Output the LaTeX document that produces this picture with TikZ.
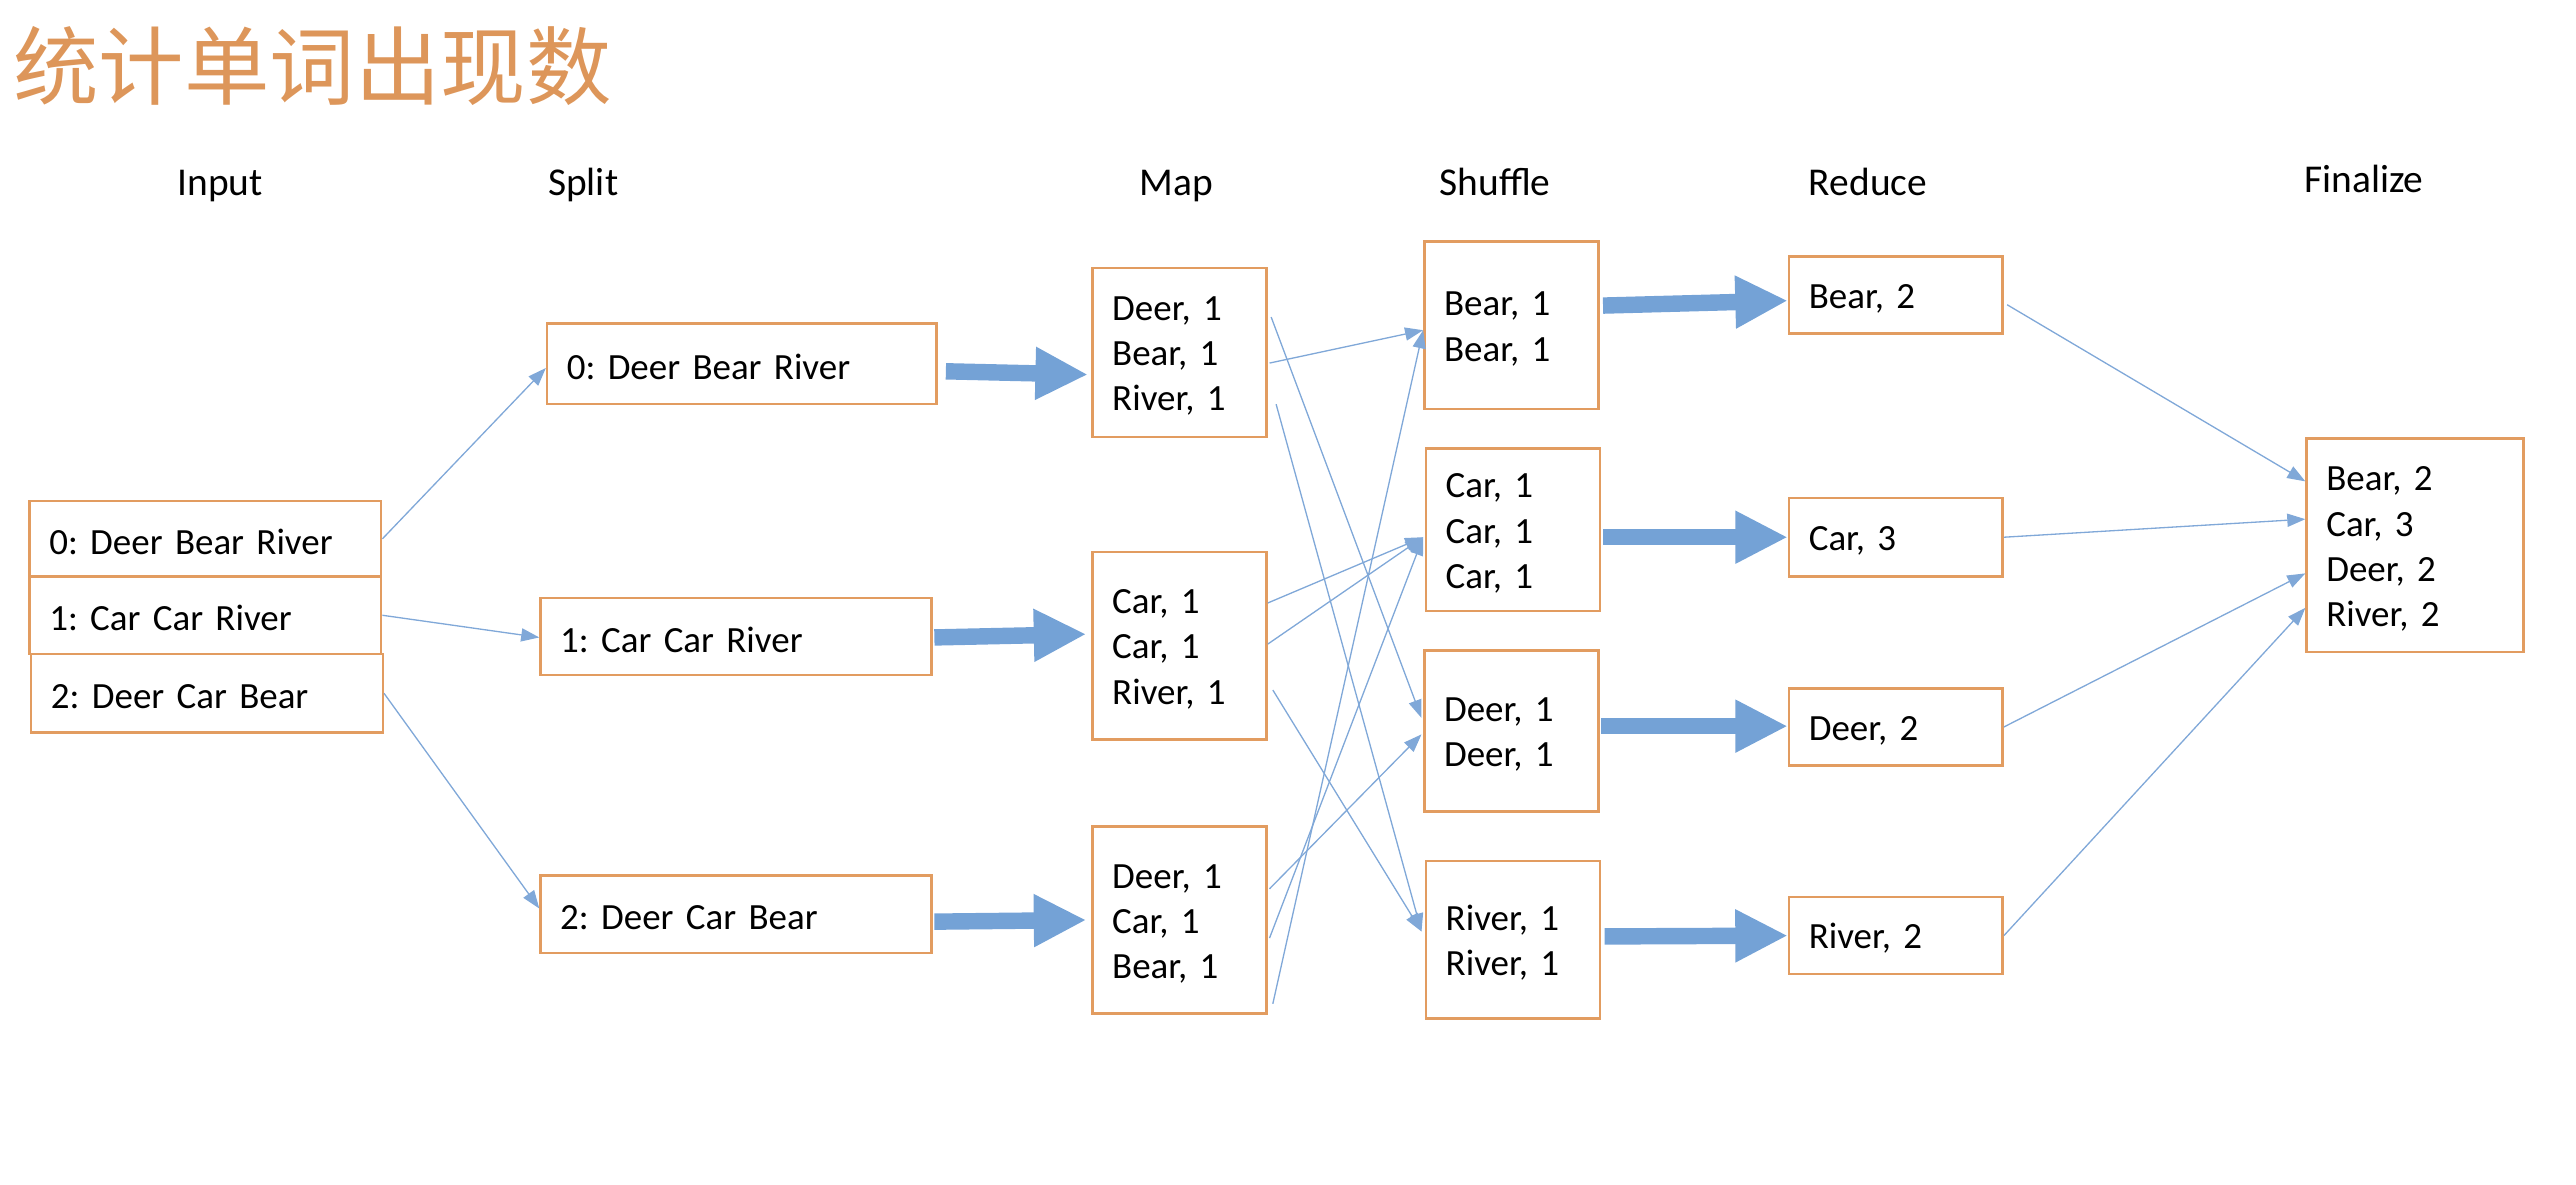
\documentclass[tikz,border=0pt]{standalone}
\usepackage{fontspec}
\setmainfont{Carlito}
\newfontfamily\cjk{Noto Sans CJK SC}
\usetikzlibrary{arrows.meta,calc}
\definecolor{boxc}{RGB}{226,156,96}
\definecolor{titlec}{RGB}{221,150,90}
\definecolor{thickc}{RGB}{116,162,214}
\definecolor{thinc}{RGB}{128,168,216}
\frenchspacing
\begin{document}
\begin{tikzpicture}[x=1pt,y=-1pt,
  box/.style={draw=boxc, line width=1.5pt, fill=white, inner xsep=12pt, inner ysep=0pt,
    align=left, font=\fontsize{22.5}{27.5}\selectfont, anchor=center,
    execute at begin node={\rule{0pt}{19pt}}},
  hdr/.style={font=\fontsize{24}{28}\selectfont, inner sep=0pt, anchor=base},
  conn/.style={draw=thinc, line width=0.8pt, -{Triangle[length=11pt,width=8pt]}},
  bigarrow/.style={draw=thickc, line width=10pt, -{Triangle[length=32pt,width=30pt]}}
]
\useasboundingbox (0,0) rectangle (1568,720.7);

% title
\node[anchor=west, inner sep=0pt, text=titlec, font=\cjk\fontsize{52}{60}\selectfont] (title) at (8,40) {统计单词出现数};

% headers
\node[hdr] (hIn)  at (134,119) {Input};
\node[hdr] (hSp)  at (355,119) {Split};
\node[hdr] (hMap) at (716,119) {Map};
\node[hdr] (hSh)  at (910,119) {Shuffle};
\node[hdr] (hRe)  at (1137,119) {Reduce};
\node[hdr] (hFi)  at (1439,117) {Finalize};

% input
\node[box, text width=190pt, minimum height=46pt] (I0) at (125,328) {0: Deer Bear River};
\node[box, text width=190pt, minimum height=47pt] (I1) at (125,374.5) {1: Car Car River};
\node[box, text width=190pt, minimum height=48pt] (I2) at (126,422) {2: Deer Car Bear};

% split
\node[box, text width=213pt, minimum height=49pt] (S0) at (451.5,221.5) {0: Deer Bear River};
\node[box, text width=214pt, minimum height=47pt] (S1) at (448,387.5) {1: Car Car River};
\node[box, text width=214pt, minimum height=47pt] (S2) at (448,556.5) {2: Deer Car Bear};

% map
\node[box, text width=82pt, minimum height=103pt] (M0) at (718,214.5) {Deer, 1\\Bear, 1\\River, 1};
\node[box, text width=82pt, minimum height=114pt] (M1) at (718,393) {Car, 1\\Car, 1\\River, 1};
\node[box, text width=82pt, minimum height=114pt] (M2) at (718,560) {Deer, 1\\Car, 1\\Bear, 1};

% shuffle
\node[box, text width=82pt, minimum height=102pt] (H0) at (920,198) {Bear, 1\\Bear, 1};
\node[box, text width=82pt, minimum height=99pt] (H1) at (921,322.5) {Car, 1\\Car, 1\\Car, 1};
\node[box, text width=82pt, minimum height=98pt] (H2) at (920,445) {Deer, 1\\Deer, 1};
\node[box, text width=82pt, minimum height=96pt] (H3) at (921,572) {River, 1\\River, 1};

% reduce
\node[box, text width=106pt, minimum height=47pt] (R0) at (1154,179.5) {Bear, 2};
\node[box, text width=106pt, minimum height=48pt] (R1) at (1154,327) {Car, 3};
\node[box, text width=106pt, minimum height=47pt] (R2) at (1154,442.5) {Deer, 2};
\node[box, text width=106pt, minimum height=47pt] (R3) at (1154,569.5) {River, 2};

% finalize
\node[box, text width=108pt, minimum height=130pt] (F) at (1470,332) {Bear, 2\\Car, 3\\Deer, 2\\River, 2};

% input -> split
\draw[conn] (I0.east) -- ($(S0.west)+(0,2.5)$);
\draw[conn] (I1.east) -- ($(S1.west)+(0,0.5)$);
\draw[conn] (I2.east) -- ($(S2.west)+(0,-3.5)$);

% split -> map
\draw[bigarrow] ($(S0.east)+(5,4.5)$) -- ($(M0.west)+(-2,13.5)$);
\draw[bigarrow] ($(S1.east)+(1,0.5)$) -- ($(M1.west)+(-3,-7)$);
\draw[bigarrow] ($(S2.east)+(1,4.5)$) -- ($(M2.west)+(-3,0)$);

% map -> shuffle
\draw[conn] ($(M0.east)+(2,-21.5)$) -- ($(H2.west)+(-1,-8)$);
\draw[conn] ($(M0.east)+(1,6.5)$) -- ($(H0.west)+(0,3)$);
\draw[conn] ($(M0.east)+(5,31.5)$) -- ($(H3.west)+(-2,-5)$);
\draw[conn] ($(M1.east)+(0,-26)$) -- ($(H1.west)+(-1,4.5)$);
\draw[conn] ($(M1.east)+(0,-1)$) -- ($(H1.west)+(-1,4.5)$);
\draw[conn] ($(M1.east)+(3,27)$) -- ($(H3.west)+(-2,-5)$);
\draw[conn] ($(M2.east)+(1,-19)$) -- ($(H2.west)+(-1,2)$);
\draw[conn] ($(M2.east)+(1,11)$) -- ($(H1.west)+(-1,4.5)$);
\draw[conn] ($(M2.east)+(3,51)$) -- ($(H0.west)+(0,3)$);

% shuffle -> reduce
\draw[bigarrow] ($(H0.east)+(2,-12)$) -- ($(R0.west)+(0,3.5)$);
\draw[bigarrow] ($(H1.east)+(1,4.5)$) -- (R1.west);
\draw[bigarrow] ($(H2.east)+(1,-3)$) -- ($(R2.west)+(0,-0.5)$);
\draw[bigarrow] ($(H3.east)+(2,-2)$) -- (R3.west);

% reduce -> finalize
\draw[conn] ($(R0.east)+(2,6)$) -- ($(F.west)+(0,-39)$);
\draw[conn] (R1.east) -- ($(F.west)+(0,-16)$);
\draw[conn] (R2.east) -- ($(F.west)+(0,17)$);
\draw[conn] (R3.east) -- ($(F.west)+(0,38)$);
\end{tikzpicture}
\end{document}
